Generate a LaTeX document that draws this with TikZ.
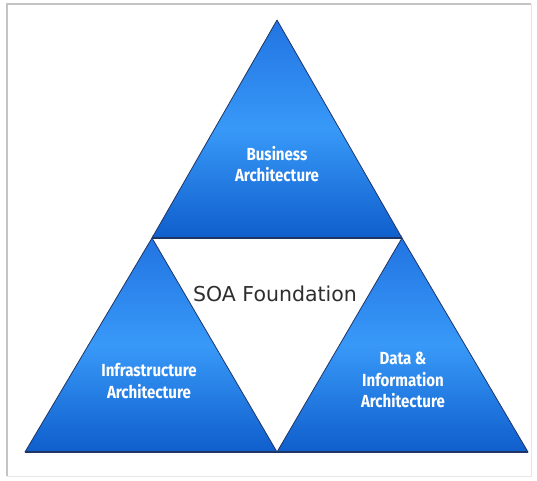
\documentclass[tikz,border=0pt]{standalone}
\usepackage{fontspec}
\setmainfont{DejaVu Sans}
\newfontfamily\lblfont[FakeStretch=0.86]{Fira Sans}
\definecolor{edgeblue}{HTML}{1E3566}
\definecolor{bluetop}{HTML}{2274E2}
\definecolor{bluemid}{HTML}{3899F8}
\definecolor{bluebot}{HTML}{0F5ECC}
\definecolor{soatext}{HTML}{2E2E2E}
\definecolor{framegray}{HTML}{C4C4C4}
\tikzset{
  tri/.style={top color=bluetop, bottom color=bluebot, middle color=bluemid},
  triedge/.style={draw=edgeblue, line width=0.8pt, line join=round},
  baseline/.style={draw=edgeblue, line width=1.8pt},
  lbl/.style={text=white, font=\lblfont\bfseries\fontsize{17.5}{21.5}\selectfont, align=center},
  soa/.style={text=soatext, font=\fontsize{20.5}{24}\selectfont}
}
\begin{document}
\begin{tikzpicture}[x=1pt,y=-1pt]
\useasboundingbox (0,0) rectangle (537,480);
\fill[white] (0,0) rectangle (537,480);
% frame
\draw[framegray, line width=1.2pt] (7,476) -- (7,4) -- (531,4);
\draw[framegray!40, line width=1pt] (531,4) -- (531,476) -- (7,476);
% vertices
\coordinate (A) at (277,20);
\coordinate (B) at (152,238);
\coordinate (C) at (402,238);
\coordinate (D) at (25,452);
\coordinate (E) at (277,452);
\coordinate (F) at (528,452);
% shadow under top base
\draw[gray!45, line width=1.5pt] ([yshift=2.2pt]B) -- ([yshift=2.2pt]C);
% triangles
\shade[tri] (A) -- (C) -- (B) -- cycle;
\shade[tri] (B) -- (E) -- (D) -- cycle;
\shade[tri] (C) -- (F) -- (E) -- cycle;
\draw[triedge] (A) -- (C) -- (B) -- cycle;
\draw[triedge] (B) -- (E) -- (D) -- cycle;
\draw[triedge] (C) -- (F) -- (E) -- cycle;
\draw[baseline] (B) -- (C);
\draw[baseline] (D) -- (F);
% labels
\node[lbl] (bus) at (277,164) {Business\\Architecture};
\node[lbl] (inf) at (149,381) {Infrastructure\\Architecture};
\node[lbl] (dat) at (403,380) {Data \&\\Information\\Architecture};
\node[soa] (soa) at (275,294) {SOA Foundation};
\end{tikzpicture}
\end{document}
